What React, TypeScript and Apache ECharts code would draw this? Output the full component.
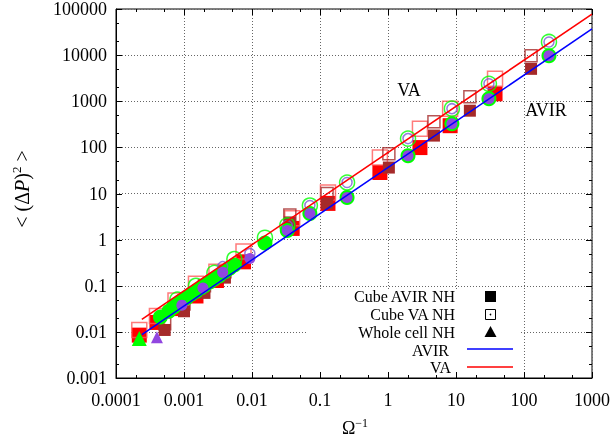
import React, { useEffect, useRef } from "react";
import * as echarts from "echarts";

// ---- data ----
const redAvirX = [0.00022, 0.0004, 0.00075, 0.0015, 0.003, 0.0075, 0.039, 0.131, 0.76, 2.95, 8.2, 37.5];
const redAvirY = [0.0085, 0.016, 0.032, 0.06, 0.13, 0.33, 1.75, 6.1, 28.5, 99, 295, 1450];
const redVaY = [0.011, 0.022, 0.048, 0.11, 0.2, 0.55, 2.9, 10.5, 60, 254, 690, 3060];

const brownAvirX = [0.00052, 0.001, 0.002, 0.004, 0.036, 0.127, 1.03, 4.74, 16, 127];
const brownAvirY = [0.011, 0.028, 0.07, 0.15, 2.36, 6.1, 36.5, 180, 624, 5040];
const brownVaY = [0.015, 0.04, 0.1, 0.2, 3.4, 10, 73, 361, 1250, 9650];

const greenAvirX = [0.00045, 0.0006, 0.0007, 0.0008, 0.0009, 0.0011, 0.0013, 0.0015, 0.0018, 0.002, 0.0024, 0.0028, 0.0033, 0.004, 0.0047, 0.0055, 0.0155, 0.033, 0.071, 0.25, 1.97, 8.7, 30.5, 233];
const greenAvirY = [0.021, 0.028, 0.034, 0.04, 0.046, 0.055, 0.066, 0.075, 0.09, 0.1, 0.12, 0.14, 0.165, 0.2, 0.24, 0.28, 0.85, 1.58, 3.7, 8.2, 66, 327, 1130, 9650];
const greenVaX = [0.0008, 0.0015, 0.0028, 0.0055, 0.0155, 0.033, 0.071, 0.25, 1.97, 8.7, 30.5, 233];
const greenVaY = [0.05, 0.1, 0.19, 0.38, 1.1, 2.03, 5.5, 17.3, 155, 690, 2390, 19300];

const purpleAvirX = [0.00093, 0.0019, 0.0037, 0.0093, 0.033, 0.071, 0.25, 1.97, 8.7, 30.5, 233];
const purpleAvirY = [0.038, 0.089, 0.195, 0.39, 1.58, 3.7, 8.2, 66, 327, 1130, 9650];
const purpleVaX = [0.0037, 0.0093, 0.033, 0.071, 0.25, 1.97, 8.7, 30.5, 233];
const purpleVaY = [0.26, 0.5, 2.03, 5.5, 17.3, 155, 690, 2390, 19300];

const wholeCellGreenX = [0.00022];
const wholeCellGreenY = [0.0072];
const wholeCellPurpleX = [0.0004];
const wholeCellPurpleY = [0.0076];

const fitLineX = [0.00024, 1000];
const avirLineY = [0.0087, 37000];
const vaLineY = [0.0186, 77600];

const xMajorTicks = [0.0001, 0.001, 0.01, 0.1, 1, 10, 100, 1000];
const xMinorTicks = [0.0002, 0.0005, 0.002, 0.005, 0.02, 0.05, 0.2, 0.5, 2, 5, 20, 50, 200, 500];
const yMajorTicks = [0.001, 0.01, 0.1, 1, 10, 100, 1000, 10000, 100000];
const yMinorTicks = [0.002, 0.005, 0.02, 0.05, 0.2, 0.5, 2, 5, 20, 50, 200, 500, 2000, 5000, 20000, 50000];

const legendLabels = ["Cube AVIR NH", "Cube VA NH", "Whole cell NH", "AVIR", "VA"];

const FONT = "Liberation Serif";

const zip = (xs: number[], ys: number[]) => xs.map((x, i) => [x, ys[i]]);

const fmt = (v: number) => {
  if (v >= 1) return String(Math.round(v));
  const d = Math.round(-Math.log10(v));
  return v.toFixed(d);
};

export default function App() {
  const ref = useRef<HTMLDivElement>(null);
  useEffect(() => {
    if (!ref.current) return;
    const chart = echarts.init(ref.current, null, { renderer: "svg" });

    const scatter = (name: string, data: number[][], symbol: string, size: number, fill: string, border: string | null, z: number) => ({
      type: "scatter",
      name,
      data,
      symbol,
      symbolSize: size,
      z,
      itemStyle: border
        ? { color: "transparent", borderColor: border, borderWidth: 1.5 }
        : { color: fill, opacity: 1 },
      emphasis: { disabled: true },
    });

    const xTickData = [
      ...xMajorTicks.map((v) => [v, 1, 6]),
      ...xMinorTicks.map((v) => [v, 1, 3]),
    ];
    const yTickData = [
      ...yMajorTicks.map((v) => [1, v, 6]),
      ...yMinorTicks.map((v) => [1, v, 3]),
    ];

    const tickStyle = { stroke: "#000", lineWidth: 1 };
    const legendText = (i: number, x: number, y: number) => ({
      type: "text",
      z: 10,
      x,
      y,
      style: { text: legendLabels[i], fontFamily: FONT, fontSize: 16, lineHeight: 15, fill: "#000", textAlign: "right", textVerticalAlign: "middle" },
    });

    const option: any = {
      animation: false,
      grid: { left: 116, right: 23, top: 8, bottom: 62, show: true, borderColor: "#000", borderWidth: 1, backgroundColor: "transparent" },
      xAxis: {
        type: "log",
        logBase: 10,
        min: 0.0001,
        max: 1000,
        interval: 1,
        splitNumber: 7,
        axisLine: { show: true, lineStyle: { color: "#000", width: 1 } },
        axisTick: { show: false },
        axisLabel: { color: "#000", fontFamily: FONT, fontSize: 18, margin: 13, formatter: fmt, showMinLabel: true, showMaxLabel: true },
        splitLine: { show: true, lineStyle: { color: "#666", width: 1, type: [1, 2] } },
      },
      yAxis: {
        type: "log",
        logBase: 10,
        min: 0.001,
        max: 100000,
        interval: 1,
        splitNumber: 8,
        axisLine: { show: true, lineStyle: { color: "#000", width: 1 } },
        axisTick: { show: false },
        axisLabel: { color: "#000", fontFamily: FONT, fontSize: 18, margin: 9, formatter: fmt, showMinLabel: true, showMaxLabel: true },
        splitLine: { show: true, lineStyle: { color: "#666", width: 1, type: [1, 2] } },
      },
      series: [
        scatter("red AVIR", zip(redAvirX, redAvirY), "rect", 15, "#ff0000", null, 2),
        scatter("red VA", zip(redAvirX, redVaY), "rect", 15, "", "#ff5a5a", 2),
        scatter("brown AVIR", zip(brownAvirX, brownAvirY), "rect", 12, "#a52a2a", null, 3),
        scatter("brown VA", zip(brownAvirX, brownVaY), "rect", 12, "", "#a52a2a", 3),
        scatter("green AVIR", zip(greenAvirX, greenAvirY), "circle", 15, "#00ff00", null, 4),
        scatter("green VA", zip(greenVaX, greenVaY), "circle", 15, "", "#00ff00", 4),
        scatter("purple AVIR", zip(purpleAvirX, purpleAvirY), "circle", 11, "#9146e0", null, 5),
        scatter("purple VA", zip(purpleVaX, purpleVaY), "circle", 10, "", "#7b5bd6", 5),
        scatter("whole green", zip(wholeCellGreenX, wholeCellGreenY), "triangle", 15, "#00ff00", null, 5),
        scatter("whole purple", zip(wholeCellPurpleX, wholeCellPurpleY), "triangle", 12, "#9146e0", null, 5),
        {
          type: "line",
          name: "AVIR",
          data: zip(fitLineX, avirLineY),
          showSymbol: false,
          z: 6,
          lineStyle: { color: "#0000ff", width: 1.6 },
          emphasis: { disabled: true },
        },
        {
          type: "line",
          name: "VA",
          data: zip(fitLineX, vaLineY),
          showSymbol: false,
          z: 6,
          lineStyle: { color: "#ff0000", width: 1.6 },
          emphasis: { disabled: true },
        },
        {
          type: "custom",
          name: "xticks",
          data: xTickData,
          encode: { x: 0, y: 1 },
          z: 7,
          silent: true,
          renderItem: (params: any, api: any) => {
            const cs = params.coordSys;
            const x = Math.round(api.coord([api.value(0), 1])[0]) + 0.5;
            const len = api.value(2);
            const b = cs.y + cs.height;
            return {
              type: "group",
              children: [
                { type: "line", shape: { x1: x, y1: b, x2: x, y2: b - len }, style: tickStyle },
                { type: "line", shape: { x1: x, y1: cs.y, x2: x, y2: cs.y + len }, style: tickStyle },
              ],
            };
          },
        },
        {
          type: "custom",
          name: "yticks",
          data: yTickData,
          encode: { x: 0, y: 1 },
          z: 7,
          silent: true,
          renderItem: (params: any, api: any) => {
            const cs = params.coordSys;
            const y = Math.round(api.coord([1, api.value(1)])[1]) + 0.5;
            const len = api.value(2);
            const r = cs.x + cs.width;
            return {
              type: "group",
              children: [
                { type: "line", shape: { x1: cs.x, y1: y, x2: cs.x + len, y2: y }, style: tickStyle },
                { type: "line", shape: { x1: r, y1: y, x2: r - len, y2: y }, style: tickStyle },
              ],
            };
          },
        },
      ],
      graphic: [
        // legend background (opaque key box)
        { type: "rect", z: 1, shape: { x: 306, y: 289, width: 214, height: 87 }, style: { fill: "#fff" } },
        legendText(0, 455, 296),
        legendText(1, 455, 314),
        legendText(2, 455, 332),
        legendText(3, 449, 350),
        legendText(4, 451, 367),
        { type: "rect", z: 10, shape: { x: 485, y: 291, width: 11, height: 11 }, style: { fill: "#000" } },
        { type: "rect", z: 10, shape: { x: 485.5, y: 309.5, width: 10, height: 10 }, style: { fill: "none", stroke: "#000", lineWidth: 1 } },
        { type: "circle", z: 10, shape: { cx: 490.5, cy: 314.5, r: 0.8 }, style: { fill: "#000" } },
        { type: "polygon", z: 10, shape: { points: [[490.5, 326], [484.5, 337], [496.5, 337]] }, style: { fill: "#000" } },
        { type: "line", z: 10, shape: { x1: 467, y1: 349, x2: 513, y2: 349 }, style: { stroke: "#0000ff", lineWidth: 1.6 } },
        { type: "line", z: 10, shape: { x1: 467, y1: 367, x2: 513, y2: 367 }, style: { stroke: "#ff0000", lineWidth: 1.6 } },
        // annotations
        { type: "text", z: 10, x: 409, y: 90, style: { text: "VA", fontFamily: FONT, fontSize: 18, fill: "#000", textAlign: "center", textVerticalAlign: "middle" } },
        { type: "text", z: 10, x: 546, y: 110, style: { text: "AVIR", fontFamily: FONT, fontSize: 18, fill: "#000", textAlign: "center", textVerticalAlign: "middle" } },
        // axis titles
        {
          type: "text",
          z: 10,
          x: 355,
          y: 428,
          style: {
            text: "{o|Ω}{s|−1}",
            textAlign: "center",
            textVerticalAlign: "middle",
            fill: "#000",
            rich: {
              o: { fontFamily: FONT, fontSize: 18, lineHeight: 22, fill: "#000" },
              s: { fontFamily: FONT, fontSize: 12, lineHeight: 22, verticalAlign: "top", fill: "#000" },
            },
          },
        },
        {
          type: "text",
          z: 10,
          x: 22,
          y: 189,
          rotation: Math.PI / 2,
          style: {
            text: "{n|< (Δ}{i|P}{n|)}{s|2}{n| >}",
            textAlign: "center",
            textVerticalAlign: "middle",
            fill: "#000",
            rich: {
              n: { fontFamily: FONT, fontSize: 20, lineHeight: 24, fill: "#000" },
              i: { fontFamily: FONT, fontSize: 20, fontStyle: "italic", lineHeight: 24, fill: "#000" },
              s: { fontFamily: FONT, fontSize: 13, lineHeight: 24, verticalAlign: "top", fill: "#000" },
            },
          },
        },
      ],
    };
    chart.setOption(option);
    return () => chart.dispose();
  }, []);

  return <div ref={ref} style={{ position: "fixed", left: 0, top: 0, width: 615, height: 440 }} />;
}
